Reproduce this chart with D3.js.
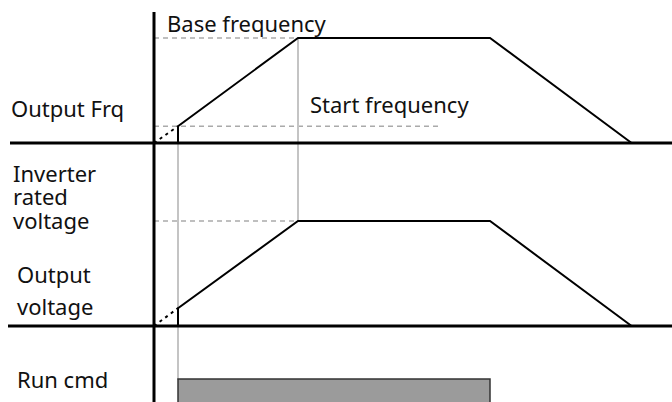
<!DOCTYPE html>
<html>
<head>
<meta charset="utf-8">
<script src="https://cdn.jsdelivr.net/npm/d3@7"></script>
<style>
  body { margin: 0; background: #fff; }
  svg text { font-family: "Noto Sans", sans-serif; font-size: 22px; fill: #111; }
</style>
</head>
<body>
<div id="chart"></div>
<script>
// key time points (arbitrary time units)
const tStart = 1, tBase = 6, tDecel = 14, tStop = 19.9;
// output frequency profile, % of base frequency
const freqTimes = [tStart, tStart, tBase, tDecel, tStop];
const freqValues = [0, 16, 100, 100, 0];
const startFreq = 16;
// output voltage profile, % of inverter rated voltage
const voltTimes = [tStart, tStart, tBase, tDecel, tStop];
const voltValues = [0, 17, 100, 100, 0];
const startVolt = 17;
// run command on/off interval
const runCmd = [tStart, tDecel];
const rowLabels = [["Output Frq"], ["Inverter", "rated", "voltage"], ["Output", "voltage"], ["Run cmd"]];

const width = 672, height = 402;

const svg = d3.select("#chart").append("svg")
    .attr("width", width)
    .attr("height", height);

let x = d3.scaleLinear().domain([0, 20]).range([154, 634]);
let yFreq = d3.scaleLinear().domain([0, 100]).range([143, 38]);
let yVolt = d3.scaleLinear().domain([0, 100]).range([326, 221]);

let line = function(yScale) {
    return d3.line()
        .x(d => x(d[0]))
        .y(d => yScale(d[1]));
};

// dashed helper lines
function guide(x1, x2, y) {
    svg.append("line")
        .attr("x1", x1).attr("x2", x2)
        .attr("y1", y).attr("y2", y)
        .attr("stroke", "#aaa")
        .attr("stroke-width", 1.5)
        .attr("stroke-dasharray", "5,4");
}
guide(x(0), x(tBase) + 2, yFreq(100));
guide(x(0), 440, yFreq(startFreq));
guide(x(0), x(tBase), yVolt(100));

// grey vertical markers
svg.append("line")
    .attr("x1", x(tStart)).attr("x2", x(tStart))
    .attr("y1", yFreq(startFreq)).attr("y2", 380)
    .attr("stroke", "#c4c4c4").attr("stroke-width", 2);
svg.append("line")
    .attr("x1", x(tBase)).attr("x2", x(tBase))
    .attr("y1", yFreq(100)).attr("y2", yVolt(100))
    .attr("stroke", "#c4c4c4").attr("stroke-width", 2);

// run command bar
svg.append("rect")
    .attr("x", x(runCmd[0]))
    .attr("y", 379)
    .attr("width", x(runCmd[1]) - x(runCmd[0]))
    .attr("height", 40)
    .attr("fill", "#9b9b9b")
    .attr("stroke", "#333")
    .attr("stroke-width", 1.5);

// profiles
[[freqTimes, freqValues, startFreq, yFreq], [voltTimes, voltValues, startVolt, yVolt]].forEach(function(p) {
    let pts = d3.zip(p[0], p[1]);
    svg.append("path")
        .attr("d", line(p[3])([[0, 0], [tStart, p[2]]]))
        .attr("fill", "none")
        .attr("stroke", "#000")
        .attr("stroke-width", 2)
        .attr("stroke-dasharray", "3,4");
    svg.append("path")
        .attr("d", line(p[3])(pts))
        .attr("fill", "none")
        .attr("stroke", "#000")
        .attr("stroke-width", 2)
        .attr("stroke-linejoin", "miter");
});

// baselines and time axis
svg.append("line")
    .attr("x1", 10).attr("x2", width)
    .attr("y1", yFreq(0)).attr("y2", yFreq(0))
    .attr("stroke", "#000").attr("stroke-width", 3);
svg.append("line")
    .attr("x1", 8).attr("x2", width)
    .attr("y1", yVolt(0)).attr("y2", yVolt(0))
    .attr("stroke", "#000").attr("stroke-width", 3);
svg.append("line")
    .attr("x1", x(0)).attr("x2", x(0))
    .attr("y1", 12).attr("y2", height)
    .attr("stroke", "#000").attr("stroke-width", 3);

// row labels (multi-line ones as tspans)
const labelPos = [[11, 117], [13, 182], [17, 283], [17, 388]];
const lineStep = [0, 23.3, 32, 0];
svg.selectAll(".row-label")
    .data(rowLabels)
    .enter()
    .append("text")
    .attr("class", "row-label")
    .attr("x", (d, i) => labelPos[i][0])
    .attr("y", (d, i) => labelPos[i][1])
    .each(function(d, i) {
        d3.select(this).selectAll("tspan")
            .data(d)
            .enter()
            .append("tspan")
            .attr("x", labelPos[i][0])
            .attr("y", (s, j) => labelPos[i][1] + j * lineStep[i])
            .text(s => s);
    });

svg.append("text").attr("x", 167).attr("y", 32).text("Base frequency");
svg.append("text").attr("x", 310).attr("y", 113).text("Start frequency");
</script>
</body>
</html>
